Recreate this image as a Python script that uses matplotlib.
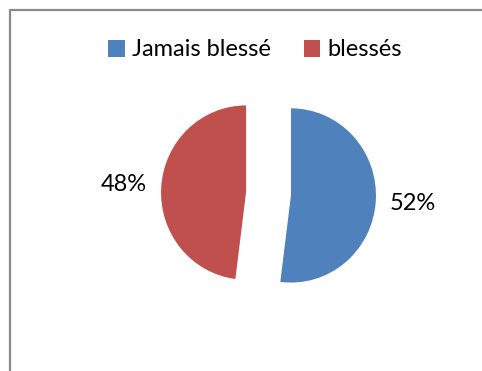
import matplotlib.pyplot as plt
from matplotlib.lines import Line2D
from matplotlib.patches import Patch

plt.rcParams['font.family'] = ['Lato', 'DejaVu Sans']

labels = ['Jamais blessé', 'blessés']
values = [52, 48]
colors = ['#4F81BD', '#C0504D']

# the pie is drawn slightly taller than wide
sy = 1.025

fig = plt.figure(figsize=(4.82, 3.71), dpi=100)
ax = fig.add_axes([0, 0, 1, 1])
ax.axis('off')

# explode is in data units here (pixels), radius 85
wedges, texts = ax.pie(values, colors=colors, startangle=90, counterclock=False,
                       center=(268.5, 177 / sy), radius=85, explode=[22.5, 22.5],
                       labels=[f'{v}%' for v in values], labeldistance=1.44,
                       textprops={'fontsize': 17, 'ha': 'center', 'va': 'center'})
ax.set_xlim(0, 482)
ax.set_ylim(0, 371 / sy)
ax.set_aspect('auto')

handles = [Patch(facecolor=c, edgecolor='none') for c in colors]
ax.legend(handles, labels, loc='center', bbox_to_anchor=(255 / 482, 1 - 50 / 371),
          ncol=2, frameon=False, fontsize=17, handlelength=0.7, handleheight=0.7,
          handletextpad=0.3, columnspacing=1.4, borderaxespad=0)

# chart area border, cut by the image edge
fig.add_artist(Line2D([10 / 482, 10 / 482, 1], [0, 1 - 10 / 371, 1 - 10 / 371],
                      transform=fig.transFigure, color='#898989', lw=1.6))

fig.savefig('out.png', dpi=100)
